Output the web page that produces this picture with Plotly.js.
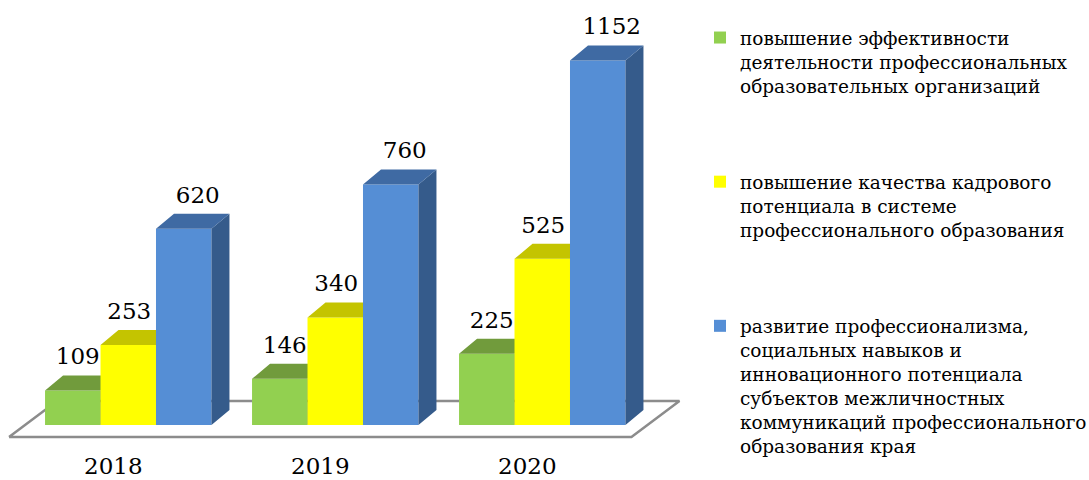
<!DOCTYPE html>
<html>
<head>
<meta charset="utf-8">
<script src="https://cdn.plot.ly/plotly-3.0.1.min.js"></script>
<style>html,body{margin:0;padding:0;background:#fff;}#chart{width:1089px;height:480px;}</style>
</head>
<body>
<div id="chart"></div>
<script>
// ---- data ----
const years = ['2018', '2019', '2020'];
const seriesNames = [
  'повышение эффективности<br>деятельности профессиональных<br>образовательных организаций',
  'повышение качества кадрового<br>потенциала в системе<br>профессионального образования',
  'развитие профессионализма,<br>социальных навыков и<br>инновационного потенциала<br>субъектов межличностных<br>коммуникаций профессионального<br>образования края'
];
const effectiveness = [109, 146, 225];
const personnel = [253, 340, 525];
const professionalism = [620, 760, 1152];

// ---- style ----
const frontColors = ['#92D050', '#FFFF00', '#558ED5'];
const topColors = ['#719B3C', '#C4C400', '#3F6AA3'];
const sideColors = ['#5E8232', '#A3A300', '#355B8B'];
const labelShiftPx = [5, 1, 14];

const PX_X = 207;            // px per category unit
const W = 0.268;             // bar width (category units)
const DX = 18 / PX_X;        // depth offset x
const Y_LO = -79, Y_HI = 1343;
const PX_Y = 450 / (Y_HI - Y_LO);
const DY = 15 / PX_Y;        // depth offset in value units

const allSeries = [effectiveness, personnel, professionalism];
const idx = years.map((_, i) => i);

const traces = [];
// floor (base subplot)
const xL = idx[0] - 1.5 * W, xR = idx[idx.length - 1] + 1.5 * W;
const fFront = -12 / PX_Y, fBack = 24 / PX_Y, fShift = 48 / PX_X;
traces.push({
  x: [xL - 36 / PX_X, xR + 6 / PX_X, xR + 6 / PX_X + fShift, xL - 36 / PX_X + fShift, xL - 36 / PX_X],
  y: [fFront, fFront, fBack, fBack, fFront],
  mode: 'lines', fill: 'toself', fillcolor: '#ffffff',
  line: {color: '#8C8C8C', width: 2.5},
  xaxis: 'x', yaxis: 'y', showlegend: false, hoverinfo: 'skip'
});

allSeries.forEach((vals, s) => {
  const ax = String(s + 2);
  const centers = idx.map(i => i + (s - 1) * W);
  // front faces
  traces.push({
    type: 'bar', x: centers, y: vals, width: W, base: 0,
    marker: {color: frontColors[s], line: {width: 0}},
    name: seriesNames[s], legendgroup: 'g' + s,
    xaxis: 'x' + ax, yaxis: 'y' + ax, hoverinfo: 'skip'
  });
  // side faces
  const sx = [], sy = [];
  centers.forEach((c, k) => {
    const r = c + W / 2, v = vals[k];
    sx.push(r, r + DX, r + DX, r, r, null);
    sy.push(0, DY, v + DY, v, 0, null);
  });
  traces.push({x: sx, y: sy, mode: 'lines', fill: 'toself', fillcolor: sideColors[s],
    line: {width: 0, color: sideColors[s]}, xaxis: 'x' + ax, yaxis: 'y' + ax,
    showlegend: false, hoverinfo: 'skip'});
  // top faces
  const tx = [], ty = [];
  centers.forEach((c, k) => {
    const l = c - W / 2, r = c + W / 2, v = vals[k];
    tx.push(l, l + DX, r + DX, r, l, null);
    ty.push(v, v + DY, v + DY, v, v, null);
  });
  traces.push({x: tx, y: ty, mode: 'lines', fill: 'toself', fillcolor: topColors[s],
    line: {width: 0, color: topColors[s]}, xaxis: 'x' + ax, yaxis: 'y' + ax,
    showlegend: false, hoverinfo: 'skip'});
});
// value labels on top layer
allSeries.forEach((vals, s) => {
  const centers = idx.map(i => i + (s - 1) * W + labelShiftPx[s] / PX_X);
  traces.push({
    x: centers, y: vals.map(v => v + DY + 17 / PX_Y), mode: 'text',
    text: vals.map(String), textposition: 'middle center',
    textfont: {family: 'DejaVu Serif', size: 23, color: '#000'},
    xaxis: 'x4', yaxis: 'y4', showlegend: false, hoverinfo: 'skip'
  });
});

const xRange = [-128.25 / PX_X, -128.25 / PX_X + 700 / PX_X];
const hiddenX = {range: xRange, showgrid: false, zeroline: false, showticklabels: false, showline: false, fixedrange: true};
const hiddenY = {range: [Y_LO, Y_HI], showgrid: false, zeroline: false, showticklabels: false, showline: false, fixedrange: true};

const layout = {
  width: 1089, height: 480,
  margin: {l: 0, r: 389, t: 0, b: 30, autoexpand: false},
  paper_bgcolor: '#fff', plot_bgcolor: 'rgba(0,0,0,0)',
  barmode: 'overlay', showlegend: true,
  font: {family: 'DejaVu Serif', color: '#000'},
  xaxis: {range: xRange, showgrid: false, zeroline: false, showline: false, fixedrange: true,
    tickmode: 'array', tickvals: idx.map(i => i - 0.072), ticktext: years,
    tickfont: {family: 'DejaVu Serif', size: 23, color: '#000'}, ticks: ''},
  yaxis: hiddenY,
  xaxis2: Object.assign({overlaying: 'x'}, hiddenX), yaxis2: Object.assign({overlaying: 'y'}, hiddenY),
  xaxis3: Object.assign({overlaying: 'x'}, hiddenX), yaxis3: Object.assign({overlaying: 'y'}, hiddenY),
  xaxis4: Object.assign({overlaying: 'x'}, hiddenX), yaxis4: Object.assign({overlaying: 'y'}, hiddenY),
  legend: {x: 700 / 700, xanchor: 'left', y: 1 - 19 / 450, yanchor: 'top', traceorder: 'grouped',
    tracegroupgap: 69, valign: 'top', font: {family: 'DejaVu Serif', size: 18.5, color: '#000'},
    bgcolor: 'rgba(0,0,0,0)'}
};

Plotly.newPlot('chart', traces, layout, {displayModeBar: false, staticPlot: true});
</script>
</body>
</html>
